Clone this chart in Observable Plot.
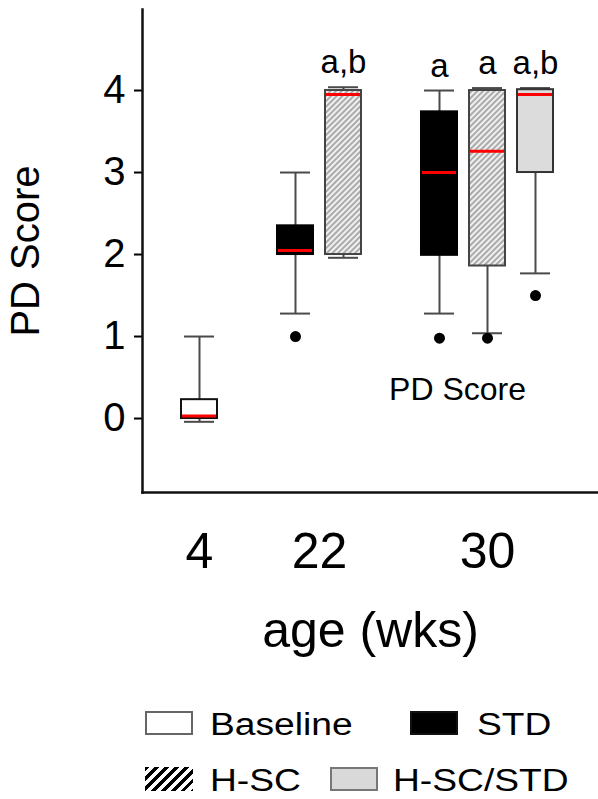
<!DOCTYPE html>
<html>
<head>
<meta charset="utf-8">
<script src="https://cdn.jsdelivr.net/npm/d3@7"></script>
<script src="https://cdn.jsdelivr.net/npm/@observablehq/plot@0.6"></script>
<style>
  body { margin: 0; background: #fff; font-family: "Liberation Sans", Arial, sans-serif; }
  #wrap { position: relative; width: 598px; height: 799px; overflow: hidden; }
  .sw { position: absolute; box-sizing: border-box; width: 48px; height: 24px; }
  .lt { position: absolute; font-size: 31px; line-height: 1; transform: scaleX(1.2); transform-origin: left center; color: #000; white-space: nowrap; }
</style>
</head>
<body>
<div id="wrap">
  <div id="chart"></div>
  <div id="legend"></div>
</div>
<script>
// ---- data ----
const ages        = ["4", "22", "22", "30", "30", "30"];
const groups      = ["Baseline", "STD", "H-SC", "STD", "H-SC", "H-SC/STD"];
const whiskerLow  = [-0.04, 1.28, 1.96, 1.28, 1.04, 1.77];
const q1          = [0.0, 2.0, 2.0, 1.99, 1.86, 3.0];
const median      = [0.03, 2.05, 3.95, 3.0, 3.26, 3.95];
const q3          = [0.23, 2.35, 4.0, 3.74, 4.0, 4.01];
const whiskerHigh = [1.0, 3.0, 4.04, 4.0, 4.03, 4.03];
const outliers    = [[], [1.0], [], [0.98], [0.98], [1.5]];
const sigLabels   = ["", "", "a,b", "a", "a", "a,b"];
const yTicks      = [0, 1, 2, 3, 4];
const ageLabels   = ["4", "22", "30"];
const legendItems = ["Baseline", "STD", "H-SC", "H-SC/STD"];

// ---- layout config (band slots, including spacer slots) ----
const slotDomain = ["4|Baseline", "s1", "s2", "s3", "22|STD", "s5", "22|H-SC", "s7", "s8", "s9",
                    "30|STD", "s11", "30|H-SC", "s13", "30|H-SC/STD"];
const ageTickSlot = { "4": "4|Baseline", "22": "s5", "30": "30|H-SC" };
const fillFor   = { "Baseline": "#ffffff", "STD": "#000000", "H-SC": "url(#hatch)", "H-SC/STD": "#dcdcdc" };
const strokeFor = { "Baseline": "#111111", "STD": "#000000", "H-SC": "#444444", "H-SC/STD": "#333333" };

const boxes = ages.map((a, i) => ({
  slot: a + "|" + groups[i], group: groups[i],
  lo: whiskerLow[i], q1: q1[i], med: median[i], q3: q3[i], hi: whiskerHigh[i], sig: sigLabels[i]
}));
const outlierPts = boxes.flatMap((b, i) => outliers[i].map(v => ({ slot: b.slot, v })));
const tickToAge = Object.fromEntries(ageLabels.map(a => [ageTickSlot[a], a]));

const defs = () => {
  const d = d3.create("svg:defs");
  const p = d.append("pattern").attr("id", "hatch").attr("patternUnits", "userSpaceOnUse")
    .attr("width", 4).attr("height", 4).attr("patternTransform", "rotate(45)");
  p.append("rect").attr("width", 4).attr("height", 4).attr("fill", "#f0f0f0");
  p.append("line").attr("x1", 2).attr("y1", 0).attr("x2", 2).attr("y2", 4)
    .attr("stroke", "#9a9a9a").attr("stroke-width", 1.6);
  return d.node();
};

const font = "'Liberation Sans', Arial, sans-serif";
const chart = Plot.plot({
  width: 598, height: 680,
  marginLeft: 142, marginRight: 0, marginTop: 9, marginBottom: 188,
  style: { fontFamily: font, background: "transparent", color: "#000" },
  x: { type: "band", domain: slotDomain, range: [185.2, 548.5], padding: 0 },
  y: { domain: [-0.902, 4.988] },
  color: { type: "identity" },
  marks: [
    defs,
    Plot.ruleX(boxes, { x: "slot", y1: "lo", y2: "hi", stroke: "#4a4a4a", strokeWidth: 2 }),
    Plot.tickY(boxes, { x: "slot", y: "lo", stroke: "#4a4a4a", strokeWidth: 2, insetLeft: -3, insetRight: -3 }),
    Plot.tickY(boxes, { x: "slot", y: "hi", stroke: "#4a4a4a", strokeWidth: 2, insetLeft: -3, insetRight: -3 }),
    Plot.barY(boxes, { x: "slot", y1: "q1", y2: "q3", fill: d => fillFor[d.group], stroke: d => strokeFor[d.group],
                       strokeWidth: 2, insetLeft: -6, insetRight: -6 }),
    Plot.tickY(boxes, { x: "slot", y: "med", stroke: "#ff0000", strokeWidth: 3, insetLeft: -5, insetRight: -5 }),
    Plot.dot(outlierPts, { x: "slot", y: "v", r: 5.5, fill: "#000", stroke: "none" }),
    Plot.text(boxes.filter(d => d.sig), { x: "slot", y: "hi", text: "sig", dy: -14, lineAnchor: "bottom",
                                          fontSize: 33, fill: "#000" }),
    Plot.text(["PD Score"], { frameAnchor: "top-left", dx: 315, dy: 368, textAnchor: "middle",
                              fontSize: 32, fill: "#000" }),
    Plot.axisY({ ticks: yTicks, tickFormat: d => String(d), tickSize: 8, tickPadding: 9, fontSize: 40, strokeWidth: 2,
                 label: "PD Score", labelAnchor: "center", labelArrow: "none", labelOffset: 132 }),
    Plot.axisX({ ticks: ageLabels.map(a => ageTickSlot[a]), tickFormat: d => tickToAge[d],
                 tickSize: 0, tickPadding: 40, fontSize: 50,
                 label: "age (wks)", labelAnchor: "center", labelArrow: "none", labelOffset: 154 }),
    Plot.frame({ anchor: "left", stroke: "#111", strokeWidth: 2.5 }),
    Plot.frame({ anchor: "bottom", stroke: "#111", strokeWidth: 2.5 })
  ]
});
document.getElementById("chart").appendChild(chart);

// ---- legend (HTML below the svg area) ----
const legendLayout = [
  { swLeft: 145, top: 711, txtLeft: 210, bg: "#fff", border: "2px solid #666" },
  { swLeft: 410, top: 711, txtLeft: 477, bg: "#000", border: "2px solid #111" },
  { swLeft: 145, top: 767, txtLeft: 210, bg: "repeating-linear-gradient(135deg, #000 0 3.2px, #fff 3.2px 7px)", border: "none" },
  { swLeft: 330, top: 767, txtLeft: 393, bg: "#d9d9d9", border: "2px solid #777" }
];
const leg = document.getElementById("legend");
legendItems.forEach((name, i) => {
  const L = legendLayout[i];
  const sw = document.createElement("div");
  sw.className = "sw";
  sw.style.left = L.swLeft + "px"; sw.style.top = L.top + "px";
  sw.style.background = L.bg; sw.style.border = L.border;
  leg.appendChild(sw);
  const t = document.createElement("div");
  t.className = "lt";
  t.textContent = name;
  t.style.left = L.txtLeft + "px"; t.style.top = (L.top - 2) + "px";
  leg.appendChild(t);
});
</script>
</body>
</html>
